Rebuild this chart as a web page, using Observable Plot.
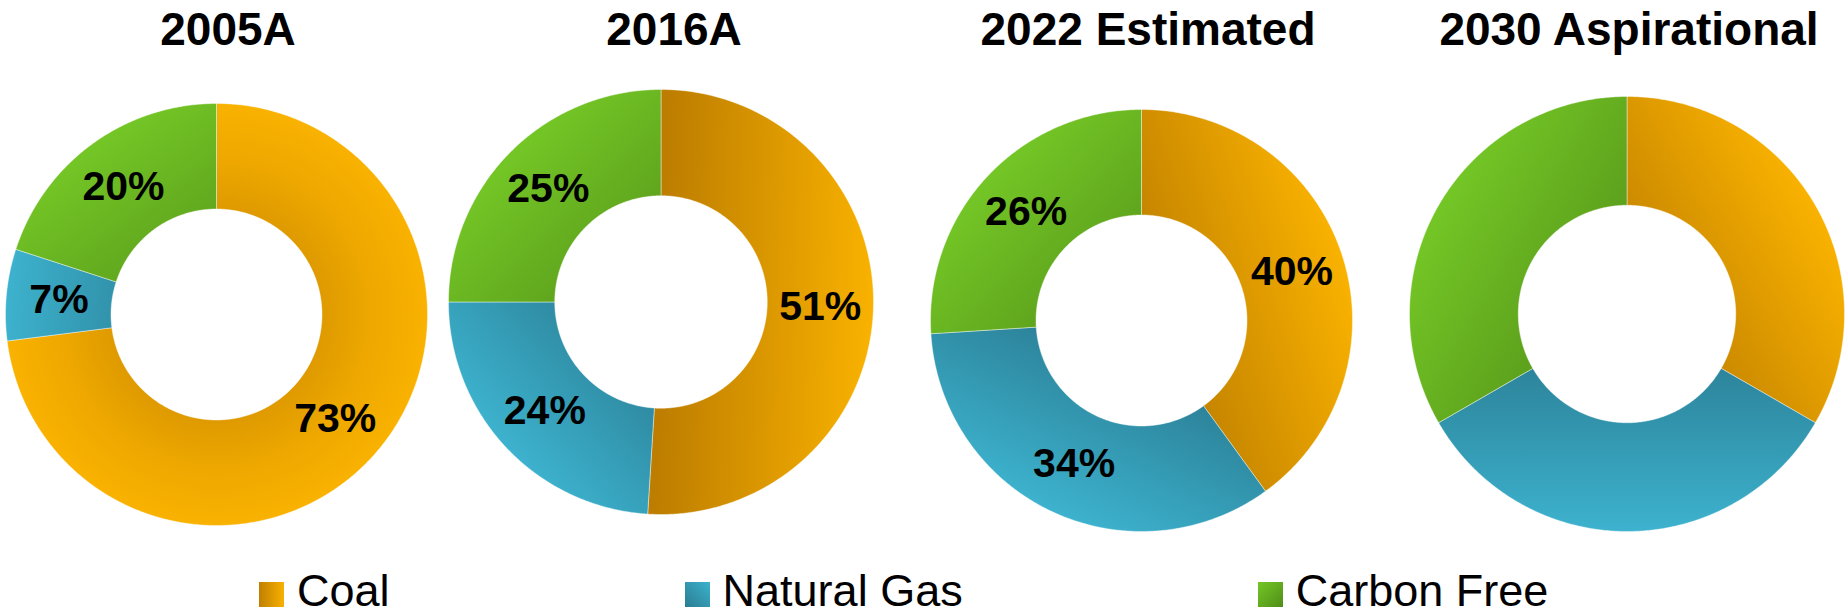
<!DOCTYPE html>
<html>
<head>
<meta charset="utf-8">
<script src="https://cdn.jsdelivr.net/npm/d3@7"></script>
<script src="https://cdn.jsdelivr.net/npm/@observablehq/plot@0.6"></script>
<style>
  html, body { margin: 0; padding: 0; background: #fff; }
  #chart { position: relative; width: 1845px; height: 616px; overflow: hidden;
           font-family: "Liberation Sans", Arial, sans-serif; }
  .title { position: absolute; width: 600px; text-align: center; font-size: 46px;
           font-weight: bold; line-height: 46px; color: #000; white-space: nowrap; }
  .donut { position: absolute; }
  .legend { position: absolute; left: 259px; top: 572px; display: flex; gap: 295px;
            align-items: center; }
  .legend .item { display: flex; align-items: center; }
  .legend .sw { width: 25px; height: 25px; margin-right: 13px; margin-top: 6px; }
  .legend .lbl { font-size: 45px; line-height: 38px; color: #000; }
</style>
</head>
<body>
<div id="chart"></div>
<script>
// ---- data ----
const years = ["2005A", "2016A", "2022 Estimated", "2030 Aspirational"];
const sources = ["Coal", "Natural Gas", "Carbon Free"];
const coal = [73, 51, 40, 33.3];
const naturalGas = [7, 24, 34, 33.3];
const carbonFree = [20, 25, 26, 33.3];
const showLabels = [true, true, true, false];

// ---- layout / style ----
const centers = [[216, 314], [660, 301], [1141, 319.5], [1626, 313]];
const radii = [211, 212.5, 211, 217.5];
const titleCenters = [228, 674, 1148, 1629];
const holeRatio = 0.5;
const labelRatio = 0.75;
const darkColors = ["#BD7D00", "#27758A", "#559419"];
const lightColors = ["#F9B200", "#3DB2CE", "#74C626"];
const legendGradients = [
  "linear-gradient(to right, #C08000, #F8B000)",
  "linear-gradient(to bottom left, #3DB2CE, #2A7C90)",
  "linear-gradient(to bottom right, #74C626, #4F8E17)"
];
const font = "'Liberation Sans', Arial, sans-serif";

const chart = document.getElementById("chart");
const series = [coal, naturalGas, carbonFree];

years.forEach((year, i) => {
  const R = radii[i];
  const rows = sources.map((s, j) => ({source: s, value: series[j][i], j}));
  const arcs = d3.pie().sort(null).value(d => d.value)(rows);

  const marks = [];
  const labels = [];
  arcs.forEach(a => {
    const pts = [];
    const step = Math.PI / 360;
    const n = Math.max(2, Math.ceil((a.endAngle - a.startAngle) / step));
    for (let k = 0; k <= n; k++) {
      const t = a.startAngle + (a.endAngle - a.startAngle) * k / n;
      pts.push({x: Math.sin(t), y: Math.cos(t)});
    }
    for (let k = n; k >= 0; k--) {
      const t = a.startAngle + (a.endAngle - a.startAngle) * k / n;
      pts.push({x: holeRatio * Math.sin(t), y: holeRatio * Math.cos(t)});
    }
    pts.push(pts[0]);
    marks.push(Plot.line(pts, {
      x: "x", y: "y", curve: "linear",
      fill: `url(#grad-${i}-${a.data.j})`,
      stroke: "white", strokeWidth: 0.6, strokeOpacity: 0.7
    }));
    const mid = (a.startAngle + a.endAngle) / 2;
    labels.push({x: labelRatio * Math.sin(mid), y: labelRatio * Math.cos(mid),
                 text: `${a.data.value}%`});
  });
  if (showLabels[i]) {
    marks.push(Plot.text(labels, {
      x: "x", y: "y", text: "text", fontSize: 41, fontWeight: "bold",
      fill: "black", fontFamily: font
    }));
  }

  const plot = Plot.plot({
    width: 2 * R, height: 2 * R,
    margin: 0,
    x: {domain: [-1, 1], axis: null},
    y: {domain: [-1, 1], axis: null},
    marks
  });

  // gradients positioned through the plot's own scales
  const sx = plot.scale("x"), sy = plot.scale("y");
  const fx = sx.apply ? v => sx.apply(v) : d3.scaleLinear(sx.domain, sx.range);
  const fy = sy.apply ? v => sy.apply(v) : d3.scaleLinear(sy.domain, sy.range);
  const defs = d3.select(plot).insert("defs", ":first-child");
  arcs.forEach(a => {
    const j = a.data.j;
    const share = (a.endAngle - a.startAngle) / (2 * Math.PI);
    const mid = (a.startAngle + a.endAngle) / 2;
    if (share > 0.6) {
      const g = defs.append("radialGradient")
        .attr("id", `grad-${i}-${j}`).attr("gradientUnits", "userSpaceOnUse")
        .attr("cx", fx(0)).attr("cy", fy(0)).attr("r", Math.abs(fx(1) - fx(0)));
      g.append("stop").attr("offset", 0.5).attr("stop-color", d3.interpolateRgb(darkColors[j], lightColors[j])(0.55));
      g.append("stop").attr("offset", 0.72).attr("stop-color", d3.interpolateRgb(darkColors[j], lightColors[j])(0.8));
      g.append("stop").attr("offset", 1).attr("stop-color", lightColors[j]);
    } else {
      const g = defs.append("linearGradient")
        .attr("id", `grad-${i}-${j}`).attr("gradientUnits", "userSpaceOnUse")
        .attr("x1", fx(0)).attr("y1", fy(0))
        .attr("x2", fx(Math.sin(mid))).attr("y2", fy(Math.cos(mid)));
      g.append("stop").attr("offset", 0).attr("stop-color", darkColors[j]);
      g.append("stop").attr("offset", 1).attr("stop-color", lightColors[j]);
    }
  });

  plot.classList.add("donut");
  plot.style.left = (centers[i][0] - R) + "px";
  plot.style.top = (centers[i][1] - R) + "px";
  plot.style.overflow = "visible";
  chart.appendChild(plot);

  const t = document.createElement("div");
  t.className = "title";
  t.textContent = year;
  t.style.left = (titleCenters[i] - 300) + "px";
  t.style.top = "6px";
  chart.appendChild(t);
});

const legend = document.createElement("div");
legend.className = "legend";
sources.forEach((s, j) => {
  const item = document.createElement("div");
  item.className = "item";
  const sw = document.createElement("div");
  sw.className = "sw";
  sw.style.background = legendGradients[j];
  const lbl = document.createElement("span");
  lbl.className = "lbl";
  lbl.textContent = s;
  item.appendChild(sw);
  item.appendChild(lbl);
  legend.appendChild(item);
});
chart.appendChild(legend);
</script>
</body>
</html>
